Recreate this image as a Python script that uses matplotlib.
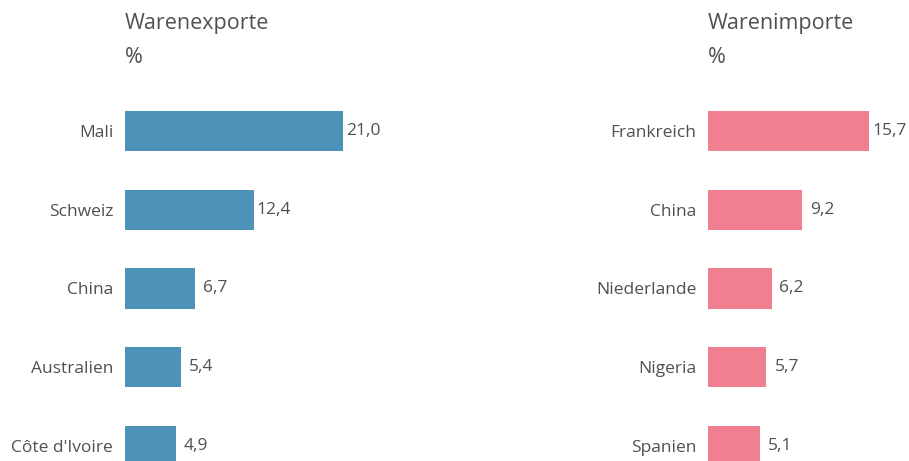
import matplotlib
matplotlib.use("Agg")
import matplotlib.pyplot as plt

# Daten (Anteile in %)
export_laender = ["Mali", "Schweiz", "China", "Australien", "Côte d'Ivoire"]
export_werte = [21.0, 12.4, 6.7, 5.4, 4.9]
import_laender = ["Frankreich", "China", "Niederlande", "Nigeria", "Spanien"]
import_werte = [15.7, 9.2, 6.2, 5.7, 5.1]

BLAU = "#4d92b8"
ROSA = "#f0808f"
TEXT = "#505050"

plt.rcParams["font.family"] = ["Open Sans", "DejaVu Sans"]

W, H = 909, 461
fig = plt.figure(figsize=(W / 100, H / 100), dpi=100)


def panel(left_px, xmax, laender, werte, farbe, titel):
    ax = fig.add_axes([left_px / W, -0.0528, 0.2855, 0.854])
    y = list(range(len(laender)))
    ax.barh(y, werte, height=0.51, color=farbe)
    ax.set_xlim(0, xmax)
    ax.set_ylim(len(laender) - 0.5, -0.5)
    ax.set_yticks(y)
    ax.set_yticklabels(laender, fontsize=12.5, color=TEXT)
    ax.tick_params(axis="y", length=0, pad=8.5)
    ax.set_xticks([])
    for s in ax.spines.values():
        s.set_visible(False)
    for yi, v in zip(y, werte):
        ax.annotate(f"{v:.1f}".replace(".", ","), (v, yi), xytext=(14.5, 0),
                    textcoords="offset points", ha="center", va="center",
                    fontsize=12.5, color=TEXT, annotation_clip=False)
    fig.text(left_px / W, 1 - 29.5 / H, titel, fontsize=15.5, color=TEXT, va="baseline")
    fig.text(left_px / W, 1 - 63 / H, "%", fontsize=15.5, color=TEXT, va="baseline")


panel(125, 25.0, export_laender, export_werte, BLAU, "Warenexporte")
panel(708, 25.3, import_laender, import_werte, ROSA, "Warenimporte")

fig.savefig("out.png", dpi=100)
